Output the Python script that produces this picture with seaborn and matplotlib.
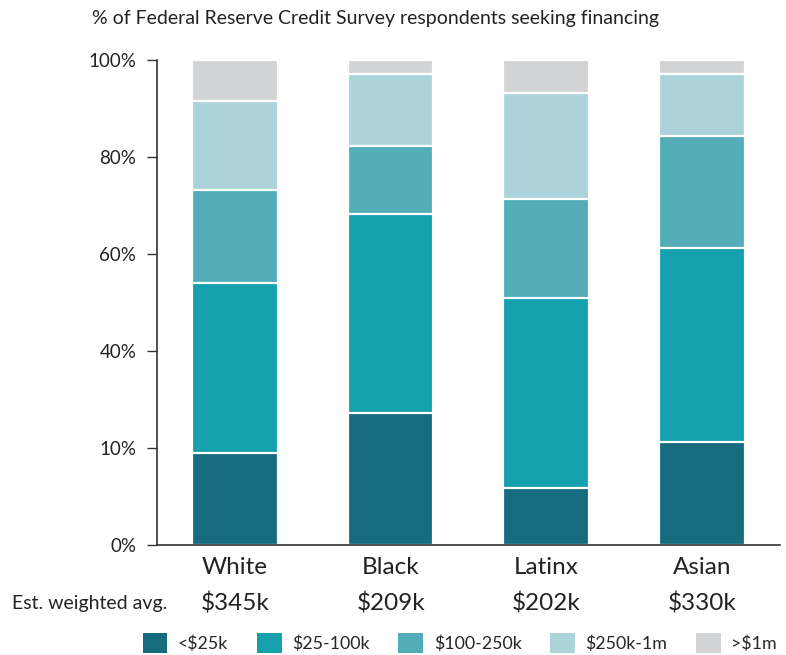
import pandas as pd
import matplotlib
matplotlib.use("Agg")
import matplotlib.pyplot as plt
from matplotlib.patches import Patch
import seaborn as sns

# data (% of respondents)
groups = ["White", "Black", "Latinx", "Asian"]
avg_labels = ["$345k", "$209k", "$202k", "$330k"]
segments = ["<$25k", "$25-100k", "$100-250k", "$250k-1m", ">$1m"]
under_25k = [19.0, 27.2, 11.8, 21.2]
k25_100 = [35.0, 41.0, 39.1, 40.0]
k100_250 = [19.2, 14.1, 20.4, 23.1]
k250_1m = [18.3, 14.8, 21.9, 12.8]
over_1m = [8.5, 2.9, 6.8, 2.9]
ytick_vals = [0, 20, 40, 60, 80, 100]
ytick_labels = ["0%", "10%", "40%", "60%", "80%", "100%"]

colors = ["#176b7f", "#15a0ae", "#52adb8", "#acd3da", "#d2d3d5"]

sns.set_style("white")
plt.rcParams["font.family"] = ["Lato", "DejaVu Sans"]

df = pd.DataFrame({"group": groups, "<$25k": under_25k, "$25-100k": k25_100,
                   "$100-250k": k100_250, "$250k-1m": k250_1m, ">$1m": over_1m})
cum = df[segments].cumsum(axis=1)
cum["group"] = df["group"]

fig = plt.figure(figsize=(7.86, 6.55), dpi=100)
ax = fig.add_axes([0.2, 0.168, 0.792, 0.74])

# draw cumulative totals from the top segment down so each layer covers the one above
for seg, col in reversed(list(zip(segments, colors))):
    sns.barplot(data=cum, x="group", y=seg, color=col, width=0.55,
                edgecolor="white", linewidth=1.6, saturation=1, ax=ax)

ax.set_xlim(-0.5, 3.5)
ax.set_ylim(0, 100)
ax.set_yticks(ytick_vals)
ax.set_yticklabels(ytick_labels, fontsize=13.5, color="#222222")
ax.set_xlabel("")
ax.set_ylabel("")
ax.tick_params(axis="y", length=7, width=1, color="#333333", pad=8, left=True)
ax.tick_params(axis="x", length=0, labelsize=17.5, pad=9, labelcolor="#222222")
for s in ["top", "right"]:
    ax.spines[s].set_visible(False)
for s in ["left", "bottom"]:
    ax.spines[s].set_color("#333333")
    ax.spines[s].set_linewidth(1.2)

fig.text(0.117, 0.972, "% of Federal Reserve Credit Survey respondents seeking financing",
         fontsize=14, color="#222222", va="center")

# weighted average row
fig.text(0.015, 0.078, "Est. weighted avg.", fontsize=14, color="#222222", va="center")
for i, lab in enumerate(avg_labels):
    x_fig = fig.transFigure.inverted().transform(ax.transData.transform((i, 0)))[0]
    fig.text(x_fig, 0.078, lab, fontsize=17.5, color="#222222", ha="center", va="center")

handles = [Patch(facecolor=c, edgecolor="none") for c in colors]
fig.legend(handles, segments, loc="center", bbox_to_anchor=(0.585, 0.018), ncol=5,
           frameon=False, fontsize=12.8, handlelength=1.4, handleheight=1.4,
           handletextpad=0.6, columnspacing=1.6)

fig.savefig("out.png", dpi=100)
